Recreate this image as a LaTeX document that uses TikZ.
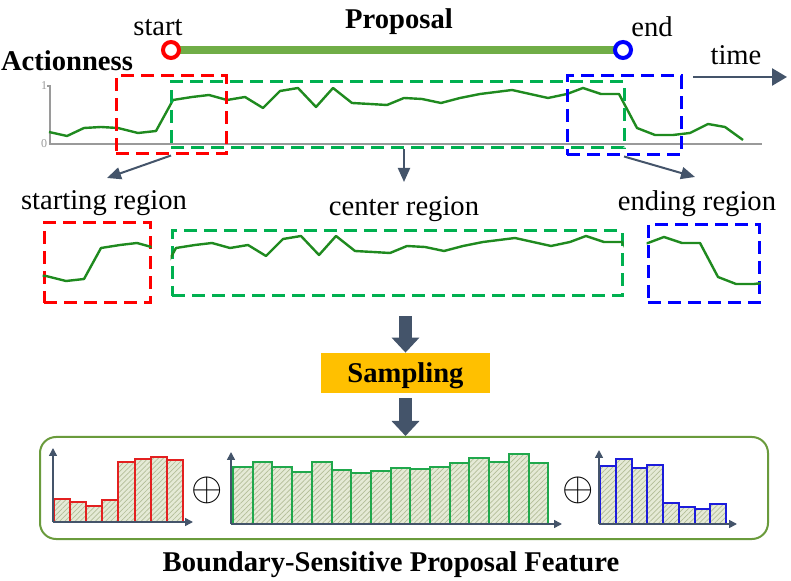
\documentclass[tikz,border=0pt]{standalone}
\usepackage{amsmath,amssymb}
\usepackage{graphicx}
\usepackage{xcolor}
\usepackage{fontspec}
\setmainfont{Liberation Serif}
\usepackage{tikz}
\usetikzlibrary{arrows.meta,patterns.meta}

\definecolor{arrgray}{HTML}{44546A}
\definecolor{propgreen}{HTML}{70AD47}
\definecolor{curvegreen}{HTML}{1F8A1F}
\definecolor{dashgreen}{HTML}{00B050}
\definecolor{sampyellow}{HTML}{FFC000}
\definecolor{panelgreen}{HTML}{6A9B3C}
\definecolor{axisgray}{HTML}{9A9A9A}
\definecolor{histred}{HTML}{E32020}
\definecolor{histgreen}{HTML}{20A84C}
\definecolor{histblue}{HTML}{1C1CDB}
\definecolor{hatchbg}{HTML}{E5EAD6}
\definecolor{hatchln}{HTML}{B3BD98}

% actionness score over time
\newcommand{\actcurve}{\draw[draw=curvegreen, line width=1.2pt, line join=round]
  (49,132) -- (67,136) -- (84,128) -- (101,127) -- (118,128) -- (138,133) -- (156,131)
  -- (173,100) -- (192,97) -- (209,95) -- (227,100) -- (245,97) -- (263,108) -- (280,91)
  -- (298,88) -- (316,107) -- (333,88) -- (352,103) -- (370,104) -- (387,105) -- (404,98)
  -- (422,99) -- (441,103) -- (460,98) -- (480,94) -- (512,90) -- (548,98) -- (567,94)
  -- (583,88) -- (601,94) -- (619,94) -- (637,128) -- (655,135) -- (673,135) -- (690,133)
  -- (708,124) -- (725,127) -- (743,140);}

\begin{document}
\begin{tikzpicture}[x=0.5pt, y=-0.5pt,
  every node/.style={inner sep=0pt, font=\fontsize{14.3}{17}\selectfont},
  bold/.style={font=\fontsize{14.3}{17}\selectfont\bfseries},
  endpt/.style={circle, fill=white, line width=2pt, minimum size=8pt},
  region/.style={draw, dash pattern=on 6.5pt off 3.5pt, line width=1.5pt},
  arr/.style={draw=arrgray, line width=1pt, -{Triangle[length=7pt,width=6pt]}},
  bigarr/.style={draw=arrgray, line width=6.5pt, -{Triangle[length=7.5pt,width=13.5pt]}},
  haxis/.style={draw=arrgray, line width=0.8pt, -{Triangle[length=4pt,width=4pt]}},
  bar/.style={line width=1pt, preaction={fill=hatchbg},
    pattern={Lines[angle=45,distance=1.8pt,line width=0.35pt]}, pattern color=hatchln}]

\useasboundingbox (0,0) rectangle (791,581);

% Proposal
\coordinate (stc) at (171,50);
\coordinate (enc) at (623,50);
\draw[draw=propgreen, line width=4pt] (stc) -- (enc);
\node[endpt, draw=red] (st) at (stc) {};
\node[endpt, draw=blue] (en) at (enc) {};
\node (stlbl) at (158,28) {start};
\node (enlbl) at (652,27) {end};
\node[bold] (prop) at (399,22) {Proposal};
\node[bold] (act) at (67,61) {Actionness};

% Time
\node (time) at (736,55) {time};
\coordinate (t0) at (693,77);
\coordinate (t1) at (787,77);
\draw[arr, line width=1.3pt, -{Triangle[length=7.5pt,width=8.5pt]}] (t0) -- (t1);

% Actionness curve
\draw[draw=axisgray, line width=0.6pt] (47,86) -- (50,86) -- (50,144) -- (762,144);
\node[font=\fontsize{6}{7}\selectfont, text=axisgray] (one) at (44,86) {1};
\node[font=\fontsize{6}{7}\selectfont, text=axisgray] (zero) at (44,144) {0};
\actcurve

% Regions on the curve
\node[region, draw=red, minimum width=55pt, minimum height=39pt] (topS) at (171,115) {};
\node[region, draw=dashgreen, minimum width=226.5pt, minimum height=33pt] (topC) at (397.5,115) {};
\node[region, draw=blue, minimum width=57pt, minimum height=39.5pt] (topE) at (624,115.5) {};

\coordinate (aS) at (107,178);
\coordinate (aC) at (404,182);
\coordinate (aE) at (695,177);
\draw[arr] (topS.south) -- (aS);
\draw[arr] (aC |- topC.south) -- (aC);
\draw[arr] (topE.south) -- (aE);

\node (lblS) at (104,203) {starting region};
\node (lblC) at (404,209) {center region};
\node (lblE) at (697,204) {ending region};

% Cut out regions
\node[region, draw=red, minimum width=53pt, minimum height=40pt] (lowS) at (97,263) {};
\node[region, draw=dashgreen, minimum width=225pt, minimum height=32.5pt] (lowC) at (397,263.5) {};
\node[region, draw=blue, minimum width=55.5pt, minimum height=39pt] (lowE) at (703.5,264) {};

\begin{scope}
  \clip (lowS.south west) rectangle (lowS.north east);
  \begin{scope}[shift={(-72,148)}] \actcurve \end{scope}
\end{scope}
\begin{scope}
  \clip (lowC.south west) rectangle (lowC.north east);
  \begin{scope}[shift={(3,148)}] \actcurve \end{scope}
\end{scope}
\begin{scope}
  \clip (lowE.south west) rectangle (lowE.north east);
  \begin{scope}[shift={(81,149)}] \actcurve \end{scope}
\end{scope}

% Sampling
\node[fill=sampyellow, minimum width=84.5pt, minimum height=20pt] (samp) at (405.5,373) {};
\node[bold] (samplbl) at (405.5,376) {Sampling};
\node[draw=panelgreen, line width=1pt, rounded corners=8pt, minimum width=364pt, minimum height=51pt] (feat) at (404,488) {};
\draw[bigarr, shorten <=9.5pt] (samp.north |- lowC.south) -- (samp.north);
\draw[bigarr, shorten <=2.5pt] (samp.south) -- (samp.south |- feat.north);

% Histograms
\foreach \h [count=\i from 0] in {499,502,506,500,462,459,457,460}
  \draw[bar, draw=histred] ({54+16.1*\i},522) rectangle ({54+16.1*(\i+1)},\h);
\coordinate (oS) at (53,522);
\draw[haxis] (oS) -- ++(140,0);
\draw[haxis] (oS) -- ++(0,-74);

\foreach \h [count=\i from 0] in {467,462,467,472,462,470,473,471,468,469,467,463,458,462,454,463}
  \draw[bar, draw=histgreen] ({233+19.7*\i},524) rectangle ({233+19.7*(\i+1)},\h);
\coordinate (oC) at (231,524);
\draw[haxis] (oC) -- ++(331,0);
\draw[haxis] (oC) -- ++(0,-72);

\foreach \h [count=\i from 0] in {466,459,468,465,503,507,509,504}
  \draw[bar, draw=histblue] ({600+15.75*\i},524) rectangle ({600+15.75*(\i+1)},\h);
\coordinate (oE) at (599,524);
\draw[haxis] (oE) -- ++(138,0);
\draw[haxis] (oE) -- ++(0,-74);

\node (plus1) at (207,490) {\scalebox{1.4}{$\oplus$}};
\node (plus2) at (578,490) {\scalebox{1.4}{$\oplus$}};

\node[bold] (featlbl) at (391,565) {Boundary-Sensitive Proposal Feature};
\end{tikzpicture}
\end{document}
